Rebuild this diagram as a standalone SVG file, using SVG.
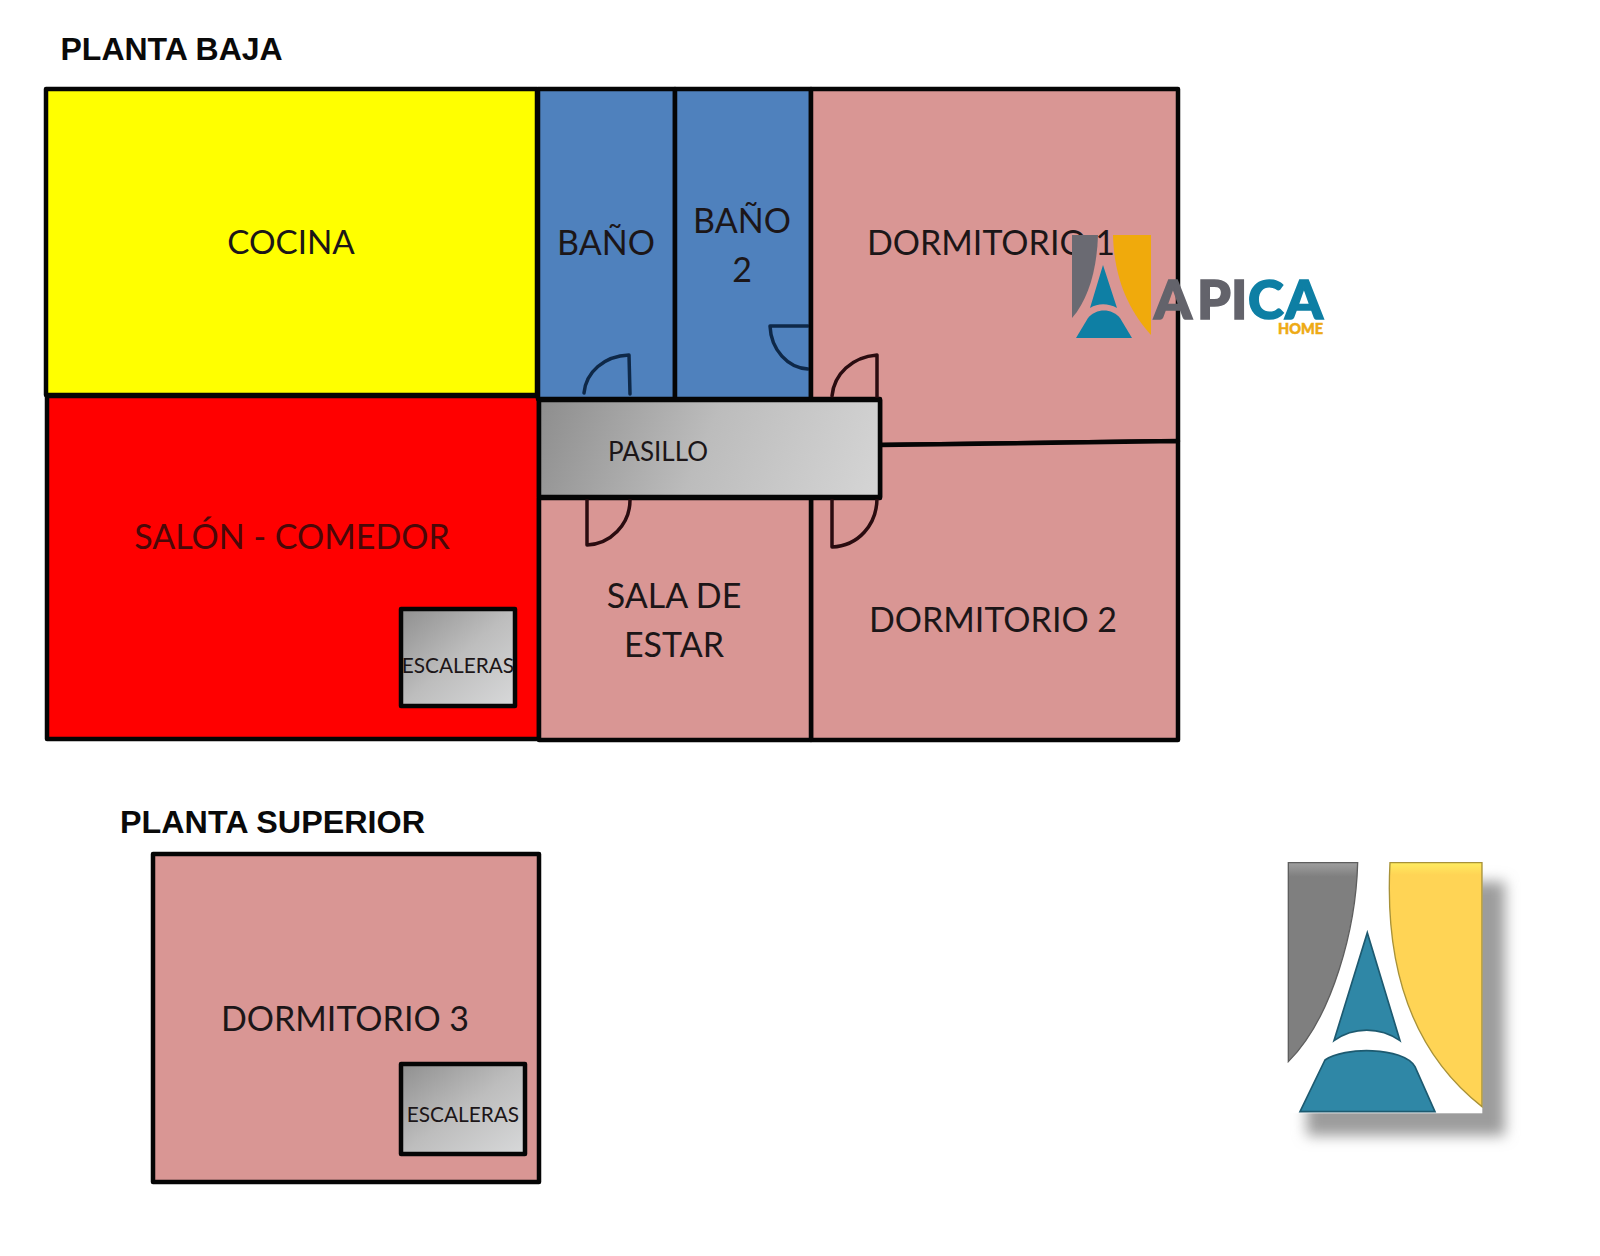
<svg xmlns="http://www.w3.org/2000/svg" width="1600" height="1256" viewBox="0 0 1600 1256">
<style>
.w{stroke:#050505;stroke-width:4.5;stroke-linejoin:round}
.db{fill:none;stroke:#0e2848;stroke-width:3.5;stroke-linecap:round;stroke-linejoin:round}
.dp{fill:none;stroke:#2a0c10;stroke-width:3.5;stroke-linecap:round;stroke-linejoin:round}
.t{font-family:Lato,"Open Sans",sans-serif;font-size:34px;fill:#1c1618;text-anchor:middle}
.s{font-size:20.8px}
.h{font-family:"Liberation Sans",Arial,sans-serif;font-weight:700;font-size:32px;fill:#0a0a0a}
.pink{fill:#d99694}
.g1{fill:url(#steel)}
.lg{font-family:Lato,sans-serif;font-weight:900;font-size:54px;stroke-width:1.6}
</style>
<defs>
<linearGradient id="steel" x1="0" y1="0" x2="1" y2="1"><stop offset="0" stop-color="#8f8f8f"/><stop offset=".5" stop-color="#bdbdbd"/><stop offset="1" stop-color="#d8d9da"/></linearGradient>
<linearGradient id="steelw" gradientUnits="userSpaceOnUse" x1="540" y1="390" x2="860" y2="520"><stop offset="0" stop-color="#8c8c8c"/><stop offset=".5" stop-color="#bcbcbc"/><stop offset="1" stop-color="#d4d4d4"/></linearGradient>
<linearGradient id="lgGray" x1="0" y1="0" x2="0" y2="1"><stop offset="0" stop-color="#a0a0a0"/><stop offset=".07" stop-color="#7f7f7f"/></linearGradient>
<linearGradient id="lgYellow" x1="0" y1="0" x2="0" y2="1"><stop offset="0" stop-color="#ffec60"/><stop offset=".05" stop-color="#ffd455"/></linearGradient>
<filter id="blur" x="-20%" y="-20%" width="140%" height="140%"><feGaussianBlur stdDeviation="20"/></filter>
</defs>
<rect width="1600" height="1256" fill="#fff"/>

<text id="title-baja" class="h" x="60.5" y="60">PLANTA BAJA</text>
<text id="title-superior" class="h" x="120" y="833" textLength="305" lengthAdjust="spacingAndGlyphs">PLANTA SUPERIOR</text>

<g id="cocina"><rect class="w" x="46" y="89" width="491" height="306" fill="#ffff00"/><text class="t" x="291" y="254" style="font-size:33.2px">COCINA</text></g>
<g id="salon"><rect class="w" x="47" y="396" width="492" height="343" fill="#ff0000"/><text class="t" x="292" y="549" style="fill:#4a0808">SALÓN - COMEDOR</text></g>
<g id="bano1"><rect class="w" x="538" y="89" width="137" height="310" fill="#4f81bd"/><text class="t" x="606" y="255">BAÑO</text><path class="db" d="M584 393C586 372 604 356 629 355L630 394"/></g>
<g id="bano2"><rect class="w" x="675" y="89" width="136" height="310" fill="#4f81bd"/><text class="t" x="742" y="233">BAÑO</text><text class="t" x="742" y="282">2</text><path class="db" d="M808 326H770C771 350 788 368 808 369"/></g>
<g id="dormitorio1"><path class="w pink" d="M811 89H1178V441L880 445V399H811Z"/><path class="dp" d="M832 396C834 374 852 357 877 355V398"/><text class="t" x="991" y="255">DORMITORIO 1</text></g>
<g id="dormitorio2"><path class="w pink" d="M880 445L1178 441V740H811V498H880Z"/><path class="dp" d="M832 500V547C858 546 877 525 877 498"/><text class="t" x="993" y="632">DORMITORIO 2</text></g>
<g id="sala"><rect class="w pink" x="539" y="498" width="272" height="242"/><path class="dp" d="M587 500V545C610 544 630 525 630 500"/><text class="t" x="674" y="608">SALA DE</text><text class="t" x="674" y="657">ESTAR</text></g>
<g id="pasillo"><rect class="w" x="539" y="400" width="341" height="97" fill="url(#steelw)"/><text class="t" x="658" y="461" style="font-size:26px">PASILLO</text></g>
<g id="escaleras1"><rect class="w g1" x="401" y="609" width="114" height="97"/><text class="t s" x="458" y="673">ESCALERAS</text></g>

<g id="dormitorio3"><rect class="w pink" x="153" y="854" width="386" height="328"/><text class="t" x="345" y="1031">DORMITORIO 3</text></g>
<g id="escaleras2"><rect class="w g1" x="401" y="1064" width="124" height="90"/><text class="t s" x="463" y="1122">ESCALERAS</text></g>

<g id="logo-small">
<path fill="#6a6a72" d="M1072 235H1098C1097 270 1088 300 1072 318Z"/>
<path fill="#f0aa0c" d="M1113 235H1151V335C1130 312 1114 280 1113 235Z"/>
<path fill="#0e7fa4" d="M1103 265L1117 308C1108 303 1098 303 1090 308Z"/>
<path fill="#0e7fa4" d="M1076 338H1132L1120 318C1112 308 1096 308 1088 318Z"/>
<text class="lg" y="319"><tspan x="1154 1197 1231" fill="#63636b" stroke="#63636b">API</tspan><tspan x="1248 1285" fill="#0e7fa4" stroke="#0e7fa4">CA</tspan></text>
<text x="1278" y="334" textLength="45" lengthAdjust="spacingAndGlyphs" style="font-family:Lato,sans-serif;font-weight:900;font-size:14.5px;stroke-width:.5" fill="#eeaa14" stroke="#eeaa14">HOME</text>
</g>

<g id="logo-large" transform="translate(1270 850) scale(.3333)">
<rect x="110" y="95" width="595" height="762" fill="#9c9c9c" filter="url(#blur)"/>
<rect x="55" y="35" width="582" height="755" fill="#fff"/>
<path fill="url(#lgGray)" stroke="#5e5e5e" stroke-width="4" d="M55 38H263C258 230 190 500 55 635Z"/>
<path fill="url(#lgYellow)" stroke="#a89238" stroke-width="4" d="M360 38H636V770C470 640 340 420 360 38Z"/>
<path fill="#2f87a6" stroke="#1d5a70" stroke-width="5" d="M292 248L390 572C330 530 250 530 192 572Z"/>
<path fill="#2f87a6" stroke="#1d5a70" stroke-width="5" d="M90 785H495L435 650C400 590 220 590 165 630Z"/>
</g>
</svg>
